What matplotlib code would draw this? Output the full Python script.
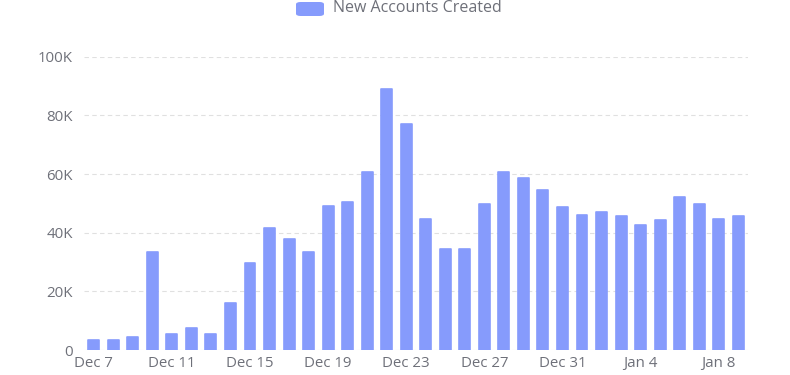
import matplotlib
matplotlib.use("Agg")
import matplotlib.pyplot as plt
from matplotlib.patches import FancyBboxPatch
from matplotlib.ticker import FuncFormatter, MultipleLocator

dates = ["Dec 7", "Dec 8", "Dec 9", "Dec 10", "Dec 11", "Dec 12", "Dec 13", "Dec 14",
         "Dec 15", "Dec 16", "Dec 17", "Dec 18", "Dec 19", "Dec 20", "Dec 21", "Dec 22",
         "Dec 23", "Dec 24", "Dec 25", "Dec 26", "Dec 27", "Dec 28", "Dec 29", "Dec 30",
         "Dec 31", "Jan 1", "Jan 2", "Jan 3", "Jan 4", "Jan 5", "Jan 6", "Jan 7",
         "Jan 8", "Jan 9"]
new_accounts = [3400, 3400, 4500, 33500, 5500, 7600, 5500, 15900,
                29800, 41600, 38000, 33300, 49100, 50300, 60600, 88900,
                77000, 44500, 34400, 34400, 49800, 60800, 58500, 54500,
                48600, 46000, 46900, 45600, 42600, 44300, 52200, 49800,
                44800, 45600]
series_name = "New Accounts Created"

bar_color = "#869bfc"
text_color = "#6e7079"

plt.rcParams['font.family'] = ['Open Sans', 'DejaVu Sans']

fig = plt.figure(figsize=(7.9, 3.75), dpi=100)
ax = fig.add_axes([84/790, 1 - 350/375, (748-84)/790, (350-56.7)/375])

x = list(range(len(dates)))
bars = ax.bar(x, new_accounts, width=0.56, color=bar_color, edgecolor=bar_color,
              linewidth=1.2, zorder=3)
for b in bars:
    b.set_joinstyle('round')

ax.set_xlim(-0.5, len(dates) - 0.5)
ax.set_ylim(0, 100000)
ax.yaxis.set_major_locator(MultipleLocator(20000))
ax.yaxis.set_major_formatter(FuncFormatter(lambda v, p: "0" if v == 0 else f"{int(v/1000)}K"))
ax.grid(axis='y', color='#e0e0e0', linestyle=(0, (4, 3)), linewidth=0.8, zorder=0)
ax.grid(axis='x', visible=False)
for s in ax.spines.values():
    s.set_visible(False)

tick_idx = list(range(0, len(dates), 4))
ax.set_xticks(tick_idx)
ax.set_xticklabels([dates[i] for i in tick_idx])
ax.tick_params(axis='both', length=0, colors=text_color, labelsize=10.8)
ax.tick_params(axis='y', pad=8)
ax.tick_params(axis='x', pad=4)

# legend
fig.patches.append(FancyBboxPatch((296/790, 1 - 16/375), 28/790, 14/375,
                                  boxstyle="round,pad=0,rounding_size=0.006",
                                  transform=fig.transFigure, facecolor=bar_color,
                                  edgecolor='none'))
fig.text(333/790, 1 - 8/375, series_name, color=text_color, fontsize=11.5,
         va='center', ha='left')

fig.savefig("out.png", dpi=100)
